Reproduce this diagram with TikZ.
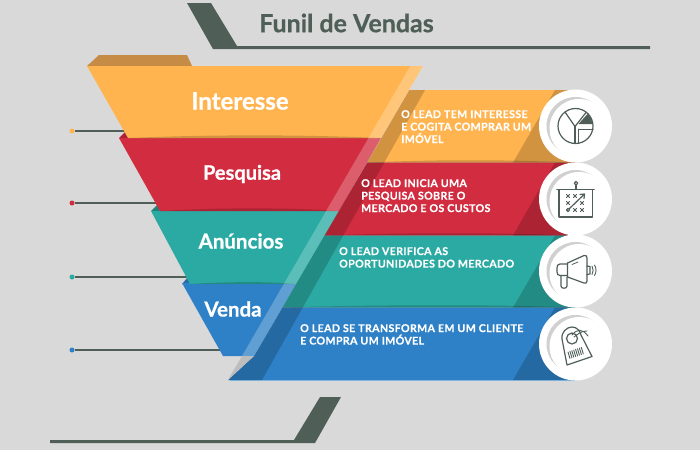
\documentclass[tikz,border=0pt]{standalone}
\usepackage{fontspec}
\setmainfont{Lato}
\newfontfamily\hfont[BoldFeatures={FakeBold=0.7}]{Lato}
\newfontfamily\ribfont[LetterSpace=3,BoldFeatures={FakeBold=0.5}]{Lato}
\usetikzlibrary{calc}
\definecolor{bgc}{HTML}{D9D9D9}
\definecolor{slate}{HTML}{4F5F58}
\definecolor{yel}{HTML}{FFB44F}
\definecolor{redc}{HTML}{D22C40}
\definecolor{tea}{HTML}{2AAAA2}
\definecolor{blu}{HTML}{2E81C6}
\definecolor{yelfold}{HTML}{C68C45}
\definecolor{redfold}{HTML}{AE2035}
\definecolor{teafold}{HTML}{23807A}
\definecolor{blufold}{HTML}{2A6CA8}
\definecolor{tipgrey}{HTML}{BDBDBD}
\definecolor{arcgrey}{HTML}{D0D0D0}
\tikzset{
  x=1pt,y=-1pt,
  lead/.style={slate,line width=1.8pt},
  leaddot/.style={circle,inner sep=0pt,minimum size=5pt,fill=#1},
  lens/.style={fill=black,fill opacity=.18},
  stage/.style={text=white,inner sep=0pt},
  ribtext/.style={text=white,anchor=north west,align=left,inner sep=0pt,font=\fontsize{10.7}{12.5}\selectfont\ribfont\bfseries},
  disc/.style={circle,fill=white,inner sep=0pt,minimum size=73pt},
  ico/.style={draw=slate,line width=1.2pt,line join=round,line cap=round},
}
\begin{document}
\begin{tikzpicture}
\useasboundingbox (0,0) rectangle (700,450);
\fill[bgc] (0,0) rectangle (700,450);
% title decoration
\fill[slate] (187,3) -- (211,3) -- (237,46) -- (650,46) -- (650,49) -- (213,49) -- cycle;
\fill[slate] (320,397) -- (341,397) -- (315,443) -- (50,443) -- (50,440) -- (294,440) -- cycle;
\node[inner sep=0pt,text=slate,font=\fontsize{25}{28}\selectfont\hfont\bfseries] (title) at (346.5,23) {Funil de Vendas};
% leader lines
\node[leaddot=yel] (d1) at (72,131) {};
\node[leaddot=redc] (d2) at (72,203) {};
\node[leaddot=tea] (d3) at (72,277) {};
\node[leaddot=blu] (d4) at (72,350) {};
\coordinate (e1) at (130,131);
\coordinate (e2) at (162,203);
\coordinate (e3) at (195,277);
\coordinate (e4) at (228,350);
\draw[lead] (d1) -- (e1);
\draw[lead] (d2) -- (e2);
\draw[lead] (d3) -- (e3);
\draw[lead] (d4) -- (e4);
% folds
\fill[yelfold] (87,66) -- (99,55) -- (187,55) -- (192,66) -- cycle;
\fill[redfold] (119,138) -- (126,131) -- (132,138) -- cycle;
\fill[teafold] (151,211) -- (158,204) -- (165,211) -- cycle;
\fill[blufold] (182,284) -- (188,277) -- (195,284) -- cycle;
% funnel
\fill[blu] (182,283) -- (297,283) -- (254,356) -- (223,356) -- cycle;
\fill[tea] (151,211) -- (339,211) -- (297,284) -- (190,284) -- cycle;
\fill[redc] (119,138) -- (381,138) -- (339,211) -- (160,211) -- cycle;
\fill[yel] (87,66) -- (423,66) -- (381,138) -- (128,138) -- cycle;
% shade along funnel lower edges
\fill[lens] (128,138) .. controls (210,134.5) and (300,134.5) .. (381,138) -- cycle;
\fill[lens] (160,211) .. controls (220,207.5) and (290,207.5) .. (339,211) -- cycle;
\fill[lens] (190,284) .. controls (230,281.5) and (270,281.5) .. (297,284) -- cycle;
% ribbons
\fill[yel] (409.3,90) -- (575,90) -- (575,162.5) -- (367.3,162.5) -- cycle;
\fill[redc] (367.3,162.5) -- (575,162.5) -- (575,235.5) -- (324.6,235.5) -- cycle;
\fill[tea] (324.6,235.5) -- (575,235.5) -- (575,307.5) -- (282.6,307.5) -- cycle;
\fill[blu] (282.6,307.5) -- (575,307.5) -- (575,380) -- (228,380) -- (254,356) -- cycle;
\draw[blu!60!white,line width=.8pt] (230,380) -- (575,380);
% right shade triangles
\fill[lens] (513,162.5) -- (555,90) -- (575,90) -- (575,162.5) -- cycle;
\fill[lens] (513,235.5) -- (555,162.5) -- (575,162.5) -- (575,235.5) -- cycle;
\fill[lens] (513,307.5) -- (555,235.5) -- (575,235.5) -- (575,307.5) -- cycle;
\fill[lens] (513,380) -- (555,307.5) -- (575,307.5) -- (575,380) -- cycle;
% ribbon lower shade
\fill[lens] (367,162.5) .. controls (440,159.5) and (500,159.5) .. (575,162.5) -- cycle;
\fill[lens] (325,235.5) .. controls (400,232.5) and (500,232.5) .. (575,235.5) -- cycle;
\fill[lens] (283,307.5) .. controls (380,304.5) and (500,304.5) .. (575,307.5) -- cycle;
% dark strip
\fill[black,fill opacity=.18] (409.3,90) -- (425,90) -- (262,380) -- (228,380) -- (254,356) -- cycle;
% light band
\fill[white,fill opacity=.24] (410.3,66) -- (423.3,66) -- (254,356) -- (242,356) -- cycle;
\fill[tipgrey] (242,356) -- (254,356) -- (228,380) -- cycle;
% discs
\node[disc] (c1) at (575.5,126) {};
\node[disc] (c2) at (575.5,199) {};
\node[disc] (c3) at (575.5,271) {};
\node[disc] (c4) at (575.5,344) {};
\foreach \n in {c1,c2,c3,c4}{
  \fill[arcgrey] (\n) circle[radius=29];
  \fill[white] ($(\n)+(3.5,2.5)$) circle[radius=29.5];
}
% pie icon
\draw[ico] (575.5,126) circle[radius=17.5];
\draw[ico] (565,112) -- (575,126.5) -- (586,112.5);
\draw[ico] (575,126.5) -- (575,143);
\fill[slate] (578.5,124) -- (587.5,114) arc[start angle=-48,end angle=-3,radius=14.5] -- cycle;
\draw[ico,line width=1pt] (578.5,129) -- (593,129);
\draw[ico,line width=1pt] (578.5,129) -- (578.5,143);
% board icon
\draw[ico] (576,183.2) circle[radius=1.8];
\draw[ico] (576,185) -- (576,189);
\draw[ico,line width=1.6pt] (557,189.5) -- (594,189.5);
\draw[ico] (559,189.5) -- (559,217) -- (592.5,217) -- (592.5,189.5);
\foreach \a/\b in {568/196,575/196,568/203,582/203,575/210,582/210}{
  \draw[ico,line width=.9pt] (\a-1.6,\b-1.6) -- (\a+1.6,\b+1.6) (\a-1.6,\b+1.6) -- (\a+1.6,\b-1.6);
}
\draw[ico] (568,210) circle[radius=1.6];
\draw[ico] (569.5,208.5) -- (584,194.5);
\draw[ico] (580,194.5) -- (584.5,194) -- (584,198.5);
% megaphone icon
\draw[ico] (567.5,263) -- (584,255.5) .. controls (586,255) and (587,256) .. (587,258) -- (587,281) .. controls (587,283) and (586,283.5) .. (584,283) -- (567.5,277) -- cycle;
\draw[ico] (567.5,264) -- (560,264) .. controls (557.5,264) and (557,266) .. (557,268) -- (557,272) .. controls (557,274) and (558,275.5) .. (560,275.5) -- (567.5,275.5);
\draw[ico] (561,275.5) -- (561,286) .. controls (561,289) and (567,289) .. (567,286) -- (567,277);
\draw[ico] (587,266) -- (590,266.5) -- (590,274) -- (587,274.5);
\draw[ico,line width=.9pt] (592,266) .. controls (593.5,268.5) and (593.5,272) .. (592,274.5);
\draw[ico,line width=.9pt] (594.5,265) .. controls (596.5,268) and (596.5,272.5) .. (594.5,275.5);
\draw[ico,line width=.8pt] (572,264.5) -- (578,262);
% tag icon
\draw[ico] (562,339) .. controls (561,332) and (567,327) .. (572,327) .. controls (577,327) and (580,331) .. (581,335) -- (592,356.5) -- (567,365) -- cycle;
\draw[ico] (572,338.5) circle[radius=5.5];
\foreach \t in {0,...,7}{
  \draw[ico,line width=.9pt] ($(570,358.5)+(\t*1.9,-\t*.65)$) -- ($(568,352)+(\t*1.9,-\t*.65)$);
}
\draw[ico,line width=.9pt] (572,335) .. controls (577,329) and (582,328) .. (588,336);
\draw[ico,line width=.9pt] (574,337) .. controls (578,334) and (581,331) .. (587,331);
% stage labels
\node[stage,font=\fontsize{24}{27}\selectfont\hfont\bfseries] (s1) at (240,101) {Interesse};
\node[stage,font=\fontsize{20}{23}\selectfont\hfont\bfseries] (s2) at (242,174) {Pesquisa};
\node[stage,font=\fontsize{20.5}{23}\selectfont\hfont\bfseries] (s3) at (241,241) {Anúncios};
\node[stage,font=\fontsize{20.5}{23}\selectfont\hfont\bfseries] (s4) at (233,309) {Venda};
% ribbon text
\node[ribtext] (t1) at (401,110) {O LEAD TEM INTERESSE\\E COGITA COMPRAR UM\\IMÓVEL};
\node[ribtext] (t2) at (361,179) {O LEAD INICIA UMA\\PESQUISA SOBRE O\\MERCADO E OS CUSTOS};
\node[ribtext] (t3) at (339,247) {O LEAD VERIFICA AS\\OPORTUNIDADES DO MERCADO};
\node[ribtext] (t4) at (300,324) {O LEAD SE TRANSFORMA EM UM CLIENTE\\E COMPRA UM IMÓVEL};
\end{tikzpicture}
\end{document}
